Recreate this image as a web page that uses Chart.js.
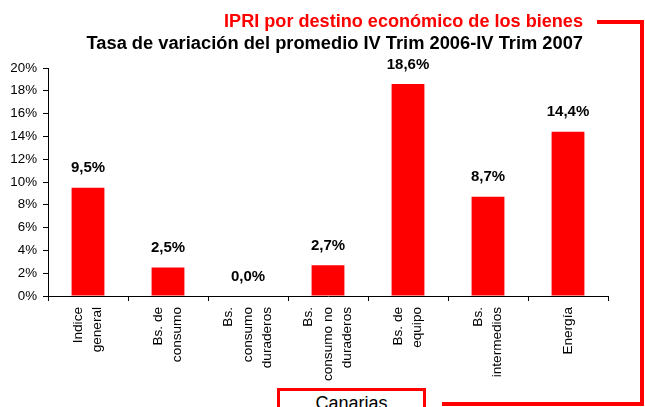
<!DOCTYPE html>
<html>
<head>
<meta charset="utf-8">
<script src="https://cdn.jsdelivr.net/npm/chart.js@4/dist/chart.umd.min.js"></script>
<style>
  body { margin: 0; background: #fff; }
  #wrap { position: relative; width: 645px; height: 407px; overflow: hidden; font-family: "Liberation Sans", Arial, sans-serif; }
  canvas { position: absolute; left: 0; top: 0; }
  .title { position: absolute; right: 62px; white-space: nowrap; font-weight: bold; font-size: 18.3px; line-height: 18px; }
  .red { background: #ff0000; position: absolute; }
  #box { position: absolute; left: 277px; top: 388px; width: 143px; height: 40px; border: 3px solid #ff0000; background: #fff;
         text-align: center; font-size: 18px; line-height: 20px; padding-top: 2px; box-sizing: content-box; }
</style>
</head>
<body>
<div id="wrap">
  <canvas id="chart" width="645" height="407"></canvas>
  <div class="title" style="top:12px;color:#ff0000;font-size:18.1px">IPRI por destino económico de los bienes</div>
  <div class="title" style="top:34px;color:#000">Tasa de variación del promedio IV Trim 2006-IV Trim 2007</div>
  <div class="red" style="left:597px;top:20px;width:47px;height:4px"></div>
  <div class="red" style="left:640px;top:20px;width:4px;height:386px"></div>
  <div class="red" style="left:442px;top:402px;width:202px;height:4px"></div>
  <div id="box">Canarias</div>
</div>
<script>
const categories = [
    ['Indice', 'general'],
    ['Bs. de', 'consumo'],
    ['Bs.', 'consumo', 'duraderos'],
    ['Bs.', 'consumo no', 'duraderos'],
    ['Bs. de', 'equipo'],
    ['Bs.', 'intermedios'],
    ['Energía']
];
const values = [9.5, 2.5, 0.0, 2.7, 18.6, 8.7, 14.4];
const yMin = 0;
const yMax = 20;
const yStep = 2;

const fontFamily = '"Liberation Sans", Arial, sans-serif';

// value labels above each bar
const valueLabels = {
    id: 'valueLabels',
    afterDatasetsDraw(chart) {
        const ctx = chart.ctx;
        const meta = chart.getDatasetMeta(0);
        ctx.save();
        ctx.font = 'bold 15px ' + fontFamily;
        ctx.fillStyle = '#000';
        ctx.textAlign = 'center';
        ctx.textBaseline = 'middle';
        meta.data.forEach((bar, i) => {
            const txt = values[i].toFixed(1).replace('.', ',') + '%';
            ctx.fillText(txt, bar.x, bar.y - 19.5);
        });
        ctx.restore();
    }
};

// centre multi-line rotated tick labels on their category
const centerLines = {
    id: 'centerLines',
    beforeDraw(chart) {
        chart.scales.x.getLabelItems().forEach(item => {
            if (item.centred) return;
            const n = Array.isArray(item.label) ? item.label.length : 1;
            item.textOffset -= (n - 1) * item.font.lineHeight / 2;
            item.centred = true;
        });
    }
};

new Chart(document.getElementById('chart'), {
    type: 'bar',
    data: {
        labels: categories,
        datasets: [{
            data: values,
            backgroundColor: '#ff0000',
            borderWidth: 0,
            categoryPercentage: 1,
            barPercentage: 0.41
        }]
    },
    options: {
        responsive: false,
        animation: false,
        layout: { padding: { top: 68, right: 37, left: 0, bottom: 0 } },
        plugins: {
            legend: { display: false },
            tooltip: { enabled: false }
        },
        scales: {
            x: {
                afterFit: (scale) => { scale.height = 111; },
                grid: { drawOnChartArea: false, drawTicks: true, tickLength: 5, color: '#000' },
                border: { color: '#000', width: 1 },
                ticks: {
                    minRotation: 90,
                    maxRotation: 90,
                    padding: 6,
                    color: '#000',
                    font: { family: fontFamily, size: 13.6, lineHeight: 1.42 }
                }
            },
            y: {
                min: yMin,
                max: yMax,
                afterFit: (scale) => { scale.width = 48; },
                grid: { drawOnChartArea: false, drawTicks: true, tickLength: 5, color: '#000' },
                border: { color: '#000', width: 1 },
                ticks: {
                    stepSize: yStep,
                    padding: 6,
                    color: '#000',
                    font: { family: fontFamily, size: 13.33 },
                    callback: (v) => v + '%'
                }
            }
        }
    },
    plugins: [valueLabels, centerLines]
});
</script>
</body>
</html>
